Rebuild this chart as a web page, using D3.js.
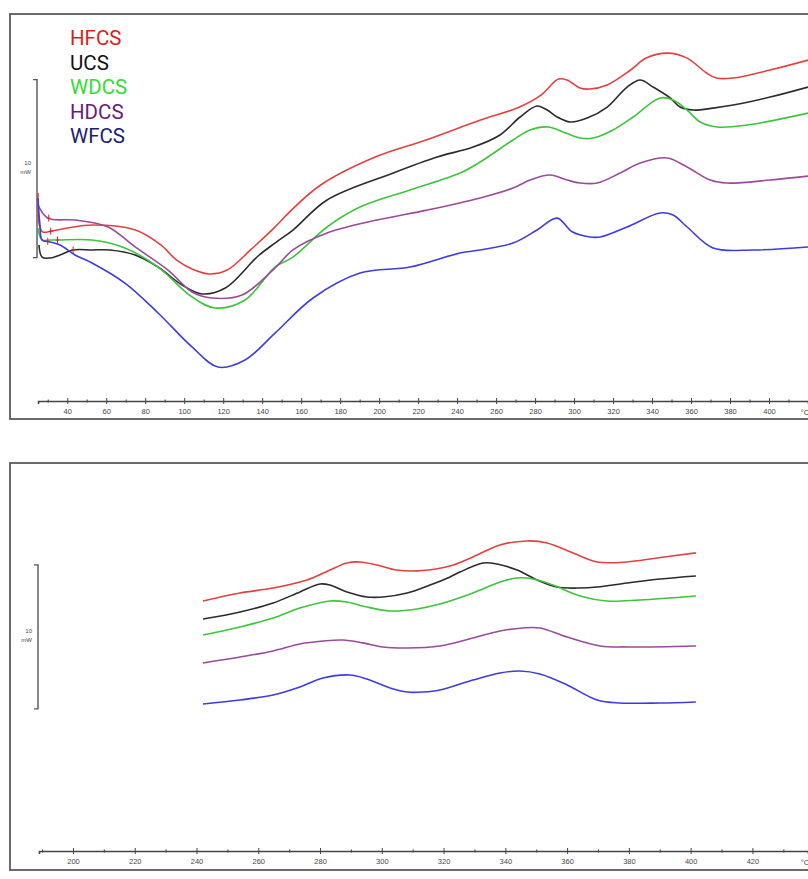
<!DOCTYPE html>
<html><head><meta charset="utf-8">
<script src="https://cdn.jsdelivr.net/npm/d3@7"></script>
<style>body{margin:0;background:#fff} svg{display:block}</style>
</head><body>
<svg id="c" width="808" height="879"></svg>
<script>
// ---- series ----
const seriesNames = ["HFCS", "UCS", "WDCS", "HDCS", "WFCS"];
const lineColors  = ["#e2413f", "#2b2b2b", "#3cc43c", "#9a4a9a", "#3c3ce0"];
const labelColors = ["#e01c1c", "#111111", "#33dd33", "#6a1a7a", "#1c1c78"];

// ---- upper panel: [temperature °C, heat flow mW] ----
const hfcsTop = [[25.0,11.63],[25.8,9.78],[27.5,9.44],[32,9.49],[40,9.66],[53,9.83],[75,9.55],[88,8.71],[96,7.87],[104,7.36],[113,7.08],[122,7.30],[134,8.43],[146,9.66],[154,10.56],[170,12.08],[198,13.65],[224,14.61],[252,15.73],[272,16.46],[283,17.13],[292,18.03],[296.4,17.98],[303,17.53],[308,17.47],[317,17.70],[329,18.54],[337,19.21],[348,19.49],[358,19.21],[368,18.37],[373,18.09],[381.5,18.09],[400.5,18.54],[420,19.10]];
const ucsTop  = [[25.5,8.71],[27.1,8.03],[31.2,7.98],[36.3,8.15],[43.0,8.43],[52.7,8.43],[61.9,8.43],[74.8,8.15],[86.6,7.47],[98.9,6.46],[109.2,5.96],[121.1,6.29],[137.9,8.09],[146.6,8.82],[155.8,9.55],[173.3,11.24],[207.2,12.75],[229.7,13.65],[248.2,14.21],[262.0,14.89],[272.3,15.90],[281.0,16.52],[286.2,16.29],[291.3,15.90],[298.0,15.62],[306.7,15.84],[317.0,16.46],[327.2,17.58],[333.9,17.98],[340.6,17.58],[349.3,16.97],[354.4,16.46],[361.1,16.29],[371.3,16.40],[381.6,16.57],[400.6,17.02],[420,17.58]];
const wdcsTop = [[25,9.66],[27.1,8.99],[31.2,8.99],[35.3,8.99],[52.7,8.99],[69.6,8.54],[86.6,7.47],[104.0,5.79],[115.8,5.17],[131.2,5.62],[146.6,7.47],[155.8,8.03],[173.3,9.72],[190.2,10.84],[215.9,11.80],[241.5,12.75],[251.8,13.37],[268.7,14.61],[277.4,15.17],[286.7,15.34],[294.4,15.06],[303.1,14.72],[309.8,14.72],[320.0,15.17],[330.3,15.90],[344.1,16.97],[350.8,16.85],[358.0,16.29],[364.7,15.62],[373.4,15.34],[388.8,15.45],[420,16.12]];
const hdcsTop = [[25,10.95],[30.1,10.22],[44.0,10.11],[60.9,9.72],[74.8,8.60],[91.7,7.30],[104.0,6.07],[114.3,5.73],[129.7,5.90],[146.6,7.42],[155.8,8.43],[173.3,9.38],[198.9,10.11],[224.6,10.67],[251.8,11.35],[268.7,11.91],[277.4,12.36],[287.7,12.64],[296.4,12.36],[303.1,12.19],[311.8,12.19],[323.6,12.75],[333.9,13.31],[347.7,13.60],[358.0,13.09],[369.8,12.36],[378.5,12.19],[400.6,12.36],[420,12.58]];
const wfcsTop = [[25,11.35],[26,9.83],[27.1,8.99],[31.2,8.88],[36.3,8.71],[44.0,8.15],[52.7,7.70],[69.6,6.57],[86.6,4.89],[104.0,2.98],[117.4,1.85],[131.2,2.25],[146.6,3.76],[166.1,5.73],[190.2,7.13],[215.9,7.47],[241.5,8.26],[251.8,8.43],[268.7,8.82],[281.0,9.55],[291.3,10.22],[299,9.45],[308.2,9.16],[313.5,9.16],[327.2,9.72],[344.1,10.51],[350.8,10.39],[358.0,9.72],[371.3,8.54],[391.9,8.43],[420,8.60]];

// ---- lower panel ----
const hfcsBot = [[242.1,17.29],[254.1,17.85],[264.8,18.19],[275.8,18.75],[283.2,19.44],[288.7,19.93],[292.9,20.00],[298.4,19.79],[304.9,19.44],[311.4,19.38],[322.1,19.72],[329.5,20.35],[338.3,21.18],[347.0,21.46],[353.5,21.32],[361.9,20.63],[369.7,20.00],[379.4,20.00],[389.1,20.28],[401.7,20.63]];
const ucsBot  = [[242.1,16.04],[254.1,16.53],[264.8,17.15],[273.5,17.92],[280.0,18.47],[283.2,18.40],[288.7,17.92],[295.2,17.57],[300.4,17.57],[308.2,17.85],[315.6,18.40],[322.1,18.96],[325.3,19.30],[332.8,19.93],[337.3,19.86],[343.8,19.44],[350.3,18.75],[356.7,18.26],[364.2,18.19],[369.7,18.26],[379.4,18.54],[390.1,18.82],[401.7,19.03]];
const wdcsBot = [[242.1,14.93],[254.1,15.49],[264.8,16.11],[273.5,16.80],[283.2,17.29],[288.7,17.22],[295.2,16.87],[302.7,16.60],[311.4,16.74],[318.8,17.08],[329.5,17.85],[338.3,18.61],[343.8,18.89],[349.0,18.82],[355.4,18.40],[364.2,17.64],[372.9,17.29],[383.6,17.36],[401.7,17.64]];
const hdcsBot = [[242.1,12.99],[254.1,13.40],[264.8,13.82],[273.5,14.31],[281.0,14.51],[287.4,14.58],[293.9,14.38],[300.4,14.10],[308.2,14.03],[318.8,14.17],[329.5,14.72],[338.3,15.21],[345.7,15.42],[351.2,15.42],[360.0,14.79],[370.7,14.17],[379.4,14.10],[401.7,14.17]];
const wfcsBot = [[242.1,10.14],[254.1,10.42],[264.8,10.76],[273.5,11.32],[281.0,11.94],[289.7,12.15],[295.2,11.87],[302.7,11.25],[308.2,10.97],[313.3,10.97],[318.8,11.11],[329.5,11.80],[338.3,12.29],[344.7,12.43],[351.2,12.22],[360.0,11.46],[369.7,10.42],[377.1,10.21],[390.1,10.21],[401.7,10.28]];

// onset markers on the upper panel (temperature per series)
const onsetTemps = [31.5, 43, 35, 30.5, 30];

// ---- axes ----
const topTickLabels = [40,60,80,100,120,140,160,180,200,220,240,260,280,300,320,340,360,380,400];
const topMinorTicks = [30,50,70,90,110,130,150,170,190,210,230,250,270,290,310,330,350,370,390,410];
const botTickLabels = [200,220,240,260,280,300,320,340,360,380,400,420];
const botMinorTicks = [190,210,230,250,270,290,310,330,350,370,390,410,430];
const unitLabel = "°C";
const scaleBarLabel = ["10", "mW"];
const topScaleBar = [8, 18];
const botScaleBar = [9.8, 19.8];

const svg = d3.select("#c");

function panel(cfg) {
  const g = svg.append("g");
  g.append("rect").attr("x", 10).attr("y", cfg.frameTop).attr("width", 820)
    .attr("height", cfg.frameBottom - cfg.frameTop)
    .attr("fill", "none").attr("stroke", "#5a5a5a").attr("stroke-width", 1.8);

  const x = d3.scaleLinear().domain(cfg.xDomain).range(cfg.xRange);
  const y = d3.scaleLinear().domain(cfg.yDomain).range(cfg.yRange);

  const minor = g.append("g").attr("transform", `translate(0,${cfg.axisY})`)
    .call(d3.axisBottom(x).tickValues(cfg.minor).tickFormat("").tickSizeOuter(0).tickSize(2));
  minor.select(".domain").remove();
  minor.selectAll(".tick line").attr("y1", -1.5).attr("y2", 1.5).attr("stroke", "#555").attr("stroke-width", 1.2);

  const ax = g.append("g").attr("transform", `translate(0,${cfg.axisY})`)
    .call(d3.axisBottom(x).tickValues(cfg.major).tickSizeOuter(0).tickSize(3).tickPadding(5));
  ax.select(".domain").attr("stroke", "#444").attr("stroke-width", 1.6);
  ax.selectAll(".tick line").attr("y1", -3).attr("y2", 3).attr("stroke", "#444").attr("stroke-width", 1);
  ax.selectAll(".tick text").attr("font-family", "Liberation Sans, Arial, sans-serif")
    .attr("font-size", 7.5).attr("fill", "#444");
  g.append("text").attr("x", 805).attr("y", cfg.axisY + 13.5).attr("text-anchor", "middle")
    .attr("font-family", "Liberation Sans, Arial, sans-serif").attr("font-size", 7.5)
    .attr("fill", "#444").text(unitLabel);

  const sb = cfg.scaleBar.map(y);
  const sx = cfg.scaleBarX;
  g.append("path").attr("d", `M${sx-4},${sb[1]}H${sx}V${sb[0]}H${sx-4}`)
    .attr("fill", "none").attr("stroke", "#555").attr("stroke-width", 1.4);
  const mid = (sb[0] + sb[1]) / 2;
  scaleBarLabel.forEach((t, i) => {
    g.append("text").attr("x", sx - 6).attr("y", mid - 4 + i * 9).attr("text-anchor", "end")
      .attr("font-family", "Liberation Sans, Arial, sans-serif").attr("font-size", 6)
      .attr("fill", "#444").text(t);
  });

  const line = d3.line().x(d => x(d[0])).y(d => y(d[1])).curve(d3.curveCatmullRom.alpha(0.5));
  cfg.series.forEach((s, i) => {
    g.append("path").datum(s).attr("d", line).attr("fill", "none")
      .attr("stroke", lineColors[i]).attr("stroke-width", 1.6).attr("stroke-linejoin", "round");
  });
  return {x, y, g};
}

const topSeries = [hfcsTop, ucsTop, wdcsTop, hdcsTop, wfcsTop];
const topPanel = panel({
  frameTop: 14, frameBottom: 419, axisY: 401,
  xDomain: [25, 420], xRange: [38, 808],
  yDomain: [0, 21.8], yRange: [400, 12],
  major: topTickLabels, minor: topMinorTicks,
  scaleBar: topScaleBar, scaleBarX: 37,
  series: topSeries
});
const botPanel = panel({
  frameTop: 463, frameBottom: 870, axisY: 851,
  xDomain: [189, 438], xRange: [39, 808],
  yDomain: [0, 26.9], yRange: [850, 462.6],
  major: botTickLabels, minor: botMinorTicks,
  scaleBar: botScaleBar, scaleBarX: 38,
  series: [hfcsBot, ucsBot, wdcsBot, hdcsBot, wfcsBot]
});

const bis = d3.bisector(d => d[0]).left;
topSeries.forEach((s, i) => {
  const t = onsetTemps[i];
  const k = Math.max(1, bis(s, t));
  const a = s[k - 1], b = s[k];
  const v = a[1] + (b[1] - a[1]) * (t - a[0]) / (b[0] - a[0]);
  const px = topPanel.x(t), py = topPanel.y(v);
  topPanel.g.append("path").attr("d", `M${px},${py-3.5}V${py+3.5}M${px-2},${py}H${px+2}`)
    .attr("stroke", "#e02020").attr("stroke-width", 1).attr("fill", "none");
});

const legendBaselines = [45, 69.5, 94, 118.5, 143];
seriesNames.forEach((n, i) => {
  svg.append("text").attr("x", 70).attr("y", legendBaselines[i])
    .attr("font-family", "Roboto, sans-serif").attr("font-size", 20.5)
    .attr("fill", labelColors[i]).text(n);
});
</script>
</body></html>
